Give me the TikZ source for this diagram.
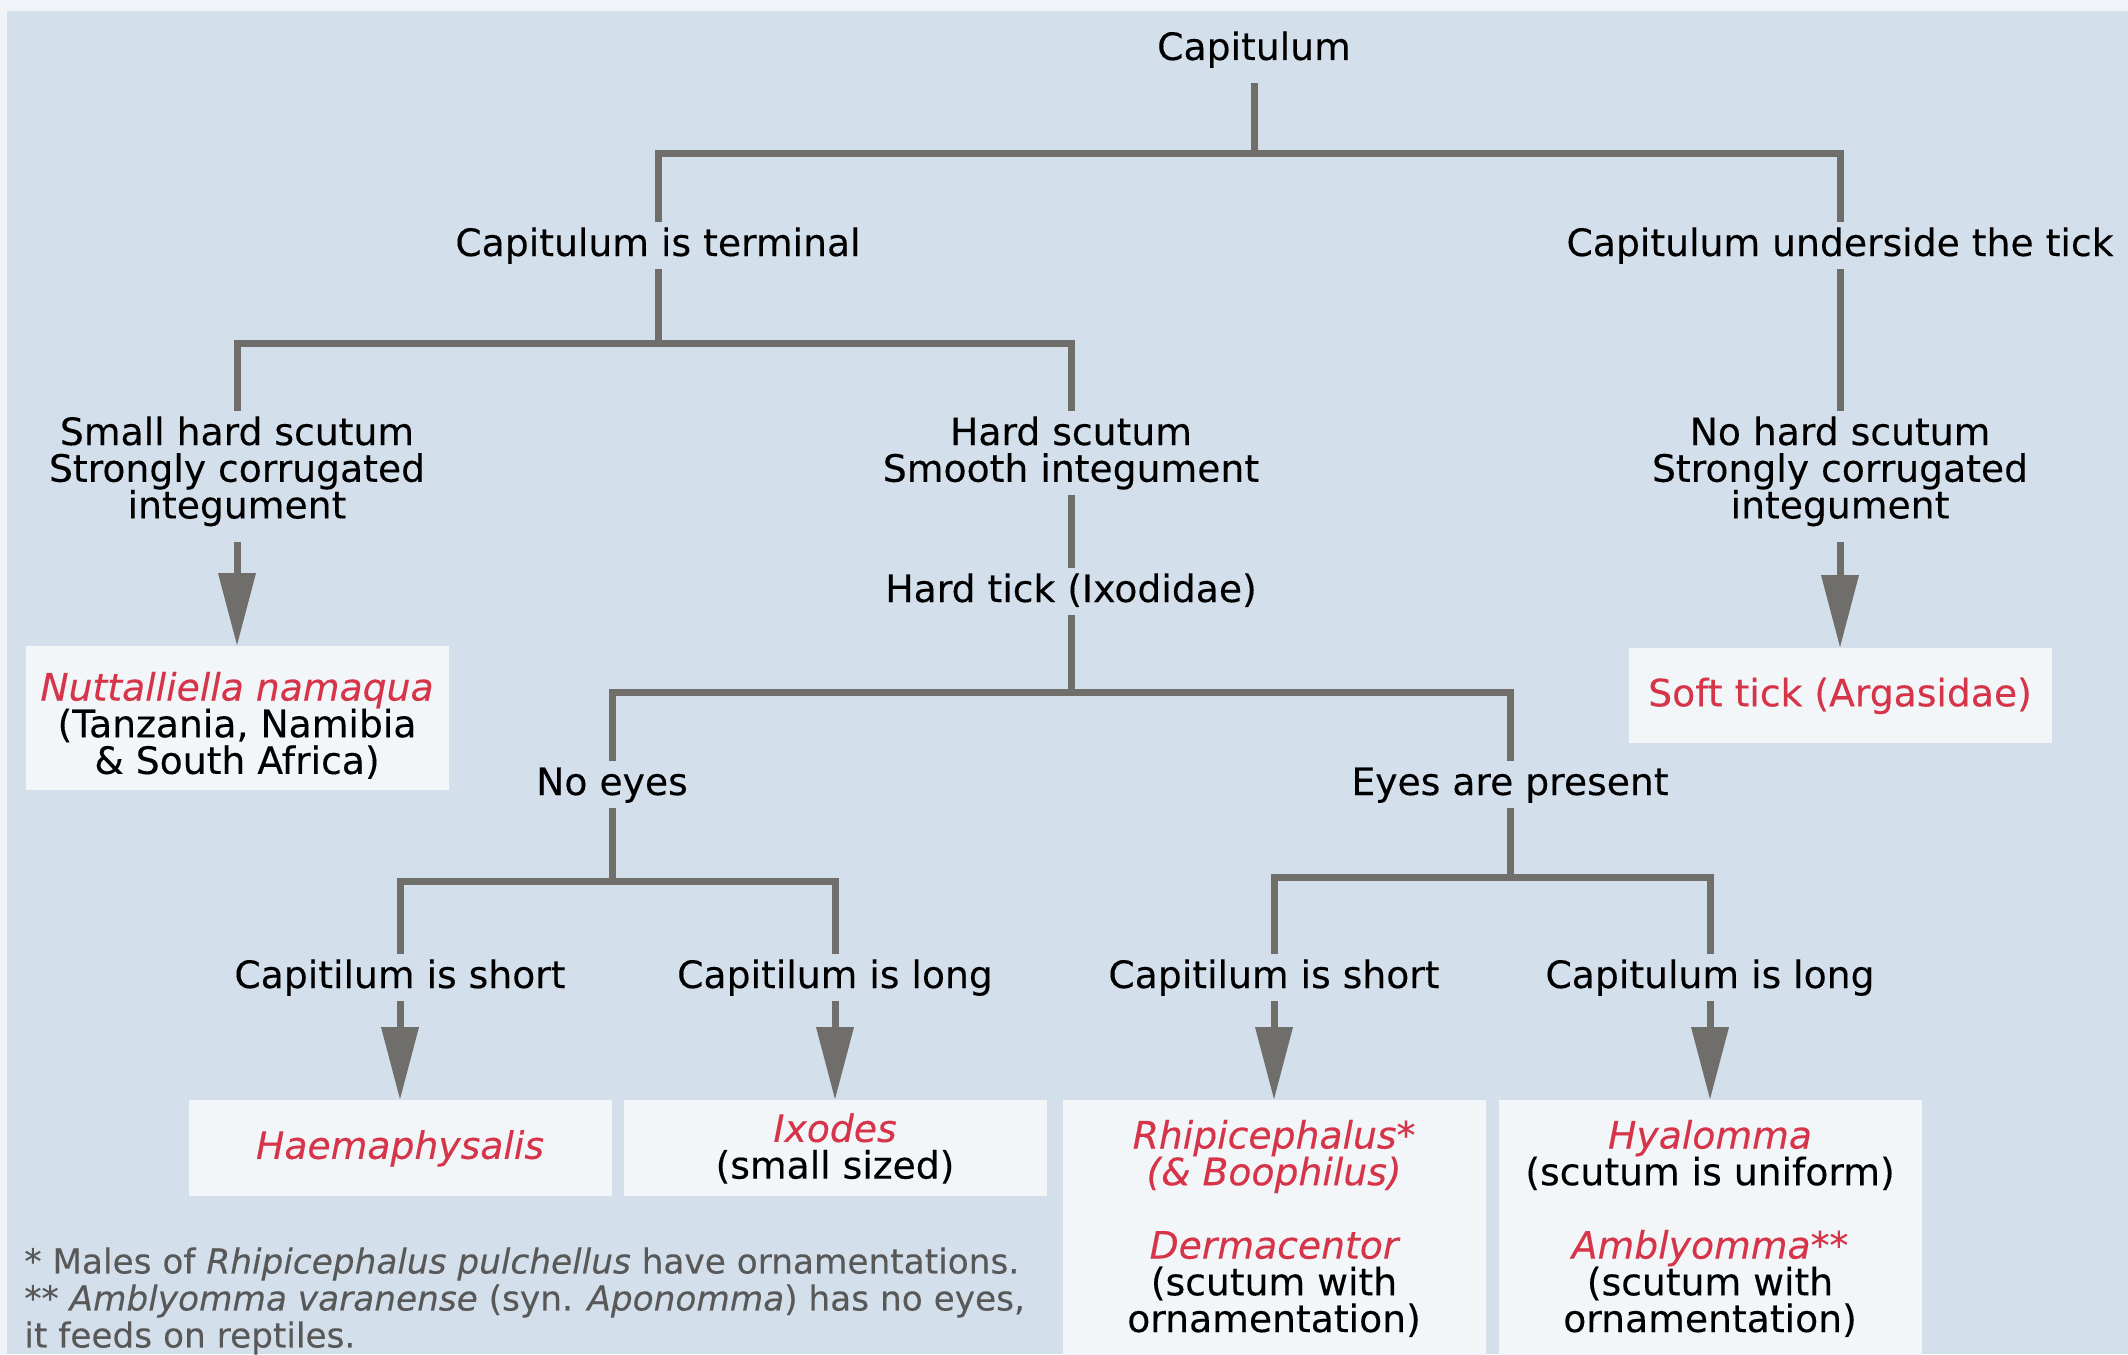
\documentclass[tikz,border=0pt]{standalone}
\usepackage{fontspec}
\setmainfont{DejaVu Sans}[FakeBold=0.25]
\usepackage{xcolor}
\usetikzlibrary{arrows.meta}
\usetikzlibrary{backgrounds}
\pgfdeclarelayer{edgelayer}
\pgfdeclarelayer{nodelayer}
\pgfsetlayers{background,edgelayer,nodelayer,main}
\definecolor{pagerim}{RGB}{240,244,248}
\definecolor{panelblue}{RGB}{211,223,234}
\definecolor{boxfill}{RGB}{242,246,249}
\definecolor{linegray}{RGB}{112,110,107}
\definecolor{tickred}{RGB}{214,52,72}
\definecolor{notegray}{RGB}{88,88,88}
\newcommand{\keysize}{\fontsize{18.85pt}{18.35pt}\selectfont}
\newcommand{\notesize}{\fontsize{17.15pt}{18.5pt}\selectfont}
\newcommand{\genus}[1]{\textcolor{tickred}{\itshape #1}}
\tikzstyle{none}=[inner sep=0mm]
\tikzstyle{keytext}=[font=\keysize,inner xsep=2pt,inner ysep=2.5pt,text height=14.3pt,text depth=4pt,anchor=base]
\tikzstyle{keylines}=[font=\keysize,inner xsep=2pt,inner ysep=2.5pt,align=center,anchor=north]
\tikzstyle{result}=[font=\keysize,fill=boxfill,minimum width=211.5pt,inner sep=0pt,align=center,anchor=north]
\tikzstyle{branch}=[draw=linegray,line width=3.5pt]
\tikzstyle{arrowedge}=[branch,-{Triangle[length=36.5pt,width=18pt]}]

\begin{document}
\begin{tikzpicture}[x=0.5pt,y=-0.5pt]
	\useasboundingbox (0,0) rectangle (2128,1354);
	\begin{pgfonlayer}{background}
		\fill [pagerim] (0,0) rectangle (2128,1354);
		\fill [panelblue] (7,11) rectangle (2128,1354);
	\end{pgfonlayer}
	\begin{pgfonlayer}{nodelayer}
		\node [style=keytext] (cap) at (1254, 60) {Capitulum};
		\node [style=none] (j0) at (1254, 153) {};
		\node [style=keytext] (cterm) at (658, 256) {Capitulum is terminal};
		\node [style=keytext] (cunder) at (1840, 256) {Capitulum underside the tick};
		\node [style=none] (j1) at (658, 343) {};
		\node [style=keylines] (small) at (237, 411) {Small hard scutum\\Strongly corrugated\\integument};
		\node [style=keylines] (hard) at (1071, 411) {Hard scutum\\Smooth integument};
		\node [style=keylines] (nohard) at (1840, 411) {No hard scutum\\Strongly corrugated\\integument};
		\node [style=result, minimum height=72pt] (nutt) at (237, 646) {\rule{0pt}{21.3pt}\genus{Nuttalliella namaqua}\\(Tanzania, Namibia\\\& South Africa)};
		\node [style=result, minimum height=47.5pt] (soft) at (1840, 648) {\textcolor{tickred}{Soft tick (Argasidae)}};
		\node [style=keytext] (ixod) at (1071, 602) {Hard tick (Ixodidae)};
		\node [style=none] (j2) at (1071, 692) {};
		\node [style=keytext] (noeyes) at (612, 795) {No eyes};
		\node [style=keytext] (eyes) at (1510, 795) {Eyes are present};
		\node [style=none] (j3) at (612, 881) {};
		\node [style=none] (j4) at (1510, 877) {};
		\node [style=keytext] (short1) at (400, 988) {Capitilum is short};
		\node [style=keytext] (long1) at (835, 988) {Capitilum is long};
		\node [style=keytext] (short2) at (1274, 988) {Capitilum is short};
		\node [style=keytext] (long2) at (1710, 988) {Capitulum is long};
		\node [style=result, minimum height=48pt] (haem) at (400, 1100) {\genus{Haemaphysalis}};
		\node [style=result, minimum height=48pt] (ixodes) at (835, 1100) {\genus{Ixodes}\\(small sized)};
		\node [style=result, minimum height=128pt] (rhip) at (1274, 1100) {\genus{Rhipicephalus*}\\\genus{(\& Boophilus)}\\[18.35pt]\genus{Dermacentor}\\(scutum with\\ornamentation)};
		\node [style=result, minimum height=128pt] (hyal) at (1710, 1100) {\genus{Hyalomma}\\(scutum is uniform)\\[18.35pt]\genus{Amblyomma**}\\(scutum with\\ornamentation)};
		\node [style=none, font=\notesize, text=notegray, align=left, anchor=north west] (notes) at (24, 1247) {* Males of \textit{Rhipicephalus pulchellus} have ornamentations.\\** \textit{Amblyomma varanense} (syn. \textit{Aponomma}) has no eyes,\\it feeds on reptiles.};
	\end{pgfonlayer}
	\begin{pgfonlayer}{edgelayer}
		\draw [style=branch, shorten <=5pt] (cap) to (j0.center);
		\draw [style=branch] (cterm) |- (j0.center) -| (cunder);
		\draw [style=branch] (cterm) to (j1.center);
		\draw [style=branch] (small) |- (j1.center) -| (hard);
		\draw [style=branch] (cunder) to (nohard);
		\draw [style=branch] (hard) to (ixod);
		\draw [style=branch] (ixod) to (j2.center);
		\draw [style=branch] (noeyes) |- (j2.center) -| (eyes);
		\draw [style=branch] (noeyes) to (j3.center);
		\draw [style=branch] (short1) |- (j3.center) -| (long1);
		\draw [style=branch] (eyes) to (j4.center);
		\draw [style=branch] (short2) |- (j4.center) -| (long2);
		\draw [style=arrowedge, shorten <=5pt] (small) to (nutt);
		\draw [style=arrowedge, shorten <=5pt] (nohard) to (soft);
		\draw [style=arrowedge] (short1) to (haem);
		\draw [style=arrowedge] (long1) to (ixodes);
		\draw [style=arrowedge] (short2) to (rhip);
		\draw [style=arrowedge] (long2) to (hyal);
	\end{pgfonlayer}
\end{tikzpicture}
\end{document}
